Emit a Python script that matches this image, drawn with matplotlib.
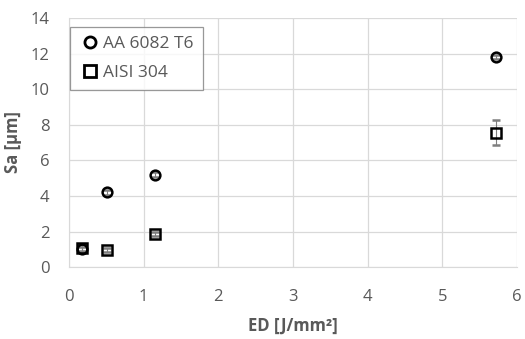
import numpy as np
import matplotlib.pyplot as plt
from matplotlib.lines import Line2D

# Surface roughness vs energy density
ed = [0.18, 0.51, 1.15, 5.72]
sa_al = [1.0, 4.2, 5.2, 11.8]
err_al = [0.15, 0.15, 0.15, 0.1]
sa_ss = [1.1, 0.95, 1.85, 7.55]
err_ss = [0.2, 0.1, 0.1, 0.7]

plt.rcParams['font.family'] = ['Open Sans', 'DejaVu Sans']
txt = '#595959'

fig, ax = plt.subplots(figsize=(5.25, 3.39), dpi=100)
fig.subplots_adjust(left=0.131, right=0.985, bottom=0.212, top=0.947)

ax.errorbar(ed, sa_al, yerr=err_al, fmt='o', ms=7, mfc='none', mec='black', mew=1.8,
            ecolor='#7f7f7f', elinewidth=0.8, capsize=3, zorder=3)
ax.errorbar(ed, sa_ss, yerr=err_ss, fmt='s', ms=7, mfc='none', mec='black', mew=1.8,
            ecolor='#7f7f7f', elinewidth=0.8, capsize=3, zorder=3)

ax.set_xlim(0, 6)
ax.set_ylim(0, 14)
ax.set_xticks(range(0, 7))
ax.set_yticks(range(0, 15, 2))
ax.grid(True, color='#d9d9d9', linewidth=0.9)
ax.set_axisbelow(True)
for s in ['top', 'right']:
    ax.spines[s].set_visible(False)
for s in ['left', 'bottom']:
    ax.spines[s].set_color('#d9d9d9')
ax.tick_params(length=0, colors=txt, labelsize=12)
ax.tick_params(axis='x', pad=16)
ax.tick_params(axis='y', pad=14)
ax.set_xlabel('ED [J/mm²]', color=txt, fontsize=12, fontweight='bold', labelpad=8)
ax.set_ylabel('Sa [µm]', color=txt, fontsize=12, fontweight='bold', labelpad=6)

handles = [Line2D([], [], ls='none', marker='o', ms=8, mfc='none', mec='black', mew=2),
           Line2D([], [], ls='none', marker='s', ms=8, mfc='none', mec='black', mew=2)]
leg = ax.legend(handles, ['AA 6082 T6', 'AISI 304'], loc='upper left',
                bbox_to_anchor=(0.003, 0.965), borderaxespad=0, fontsize=12.5, frameon=True,
                fancybox=False, edgecolor='#7f7f7f', handletextpad=0.15, handlelength=1.2,
                borderpad=0.55, labelspacing=0.7)
for t in leg.get_texts():
    t.set_color(txt)
leg.get_frame().set_linewidth(0.9)

fig.savefig('out.png', dpi=100)
